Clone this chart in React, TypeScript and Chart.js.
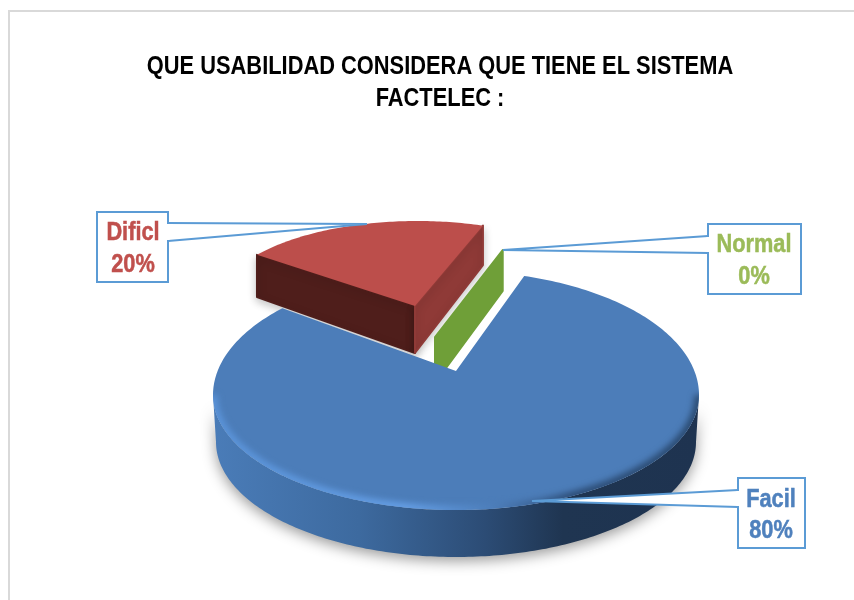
import React, { useEffect, useRef } from "react";
import { Chart, registerables } from "chart.js";

Chart.register(...registerables);

const categories = ["Facil", "Dificl", "Normal"];
const percentValues = [80, 20, 0];
const sliceColors = ["#4C7DB9", "#BC4E4B", "#6F9F38"];
const labelColors = ["#4F81BD", "#C0504D", "#9BBB59"];
const titleLines = ["QUE USABILIDAD CONSIDERA QUE TIENE EL SISTEMA", "FACTELEC :"];
const FONT = '"Liberation Sans", Arial, sans-serif';
const NARROW = 0.874;

// Projection of the tilted pie
const BLUE = { ax: 456, ay: 371, cx: 456, cy: 395, rx: 243, ryTop: 124, ryBot: 115, depth: 47, squash: 0.48 };
const RED = { ax: 415, ay: 306, r: 201, off: 2.5, ry: 85, ryBottom: 93, depth: 47 };
const GREEN = { ax: 435, ay: 337, r: 208, ry: 92, depth: 46 };

const CALLOUTS = [
  { box: [738, 478, 805, 548], wedge: [[738, 490], [532, 501], [738, 507]], cx: 771, y: [500, 531] },
  { box: [97, 212, 168, 282], wedge: [[168, 223], [367, 224], [168, 241]], cx: 133, y: [233, 265] },
  { box: [708, 224, 801, 294], wedge: [[708, 236], [503, 250], [708, 253]], cx: 754, y: [245, 277] },
];

const bluePoint = (t: number, dy = 0, shrink = 0) => {
  const c = Math.cos(t);
  return [
    BLUE.cx + (BLUE.rx - shrink) * Math.sin(t),
    BLUE.cy + dy - (c > 0 ? BLUE.ryTop : BLUE.ryBot) * c,
  ];
};

// Ellipse parameter whose ray from the apex has the given pie angle
const blueParam = (a: number) => {
  let best = 0;
  let err = Infinity;
  for (let i = 0; i < 3600; i++) {
    const t = (i / 3600) * Math.PI * 2;
    const [x, y] = bluePoint(t);
    const ang = Math.atan2(x - BLUE.ax, -(y - BLUE.ay) / BLUE.squash);
    let d = Math.abs(ang - a) % (Math.PI * 2);
    if (d > Math.PI) d = Math.PI * 2 - d;
    if (d < err) {
      err = d;
      best = t;
    }
  }
  return best;
};

const pie3d = {
  id: "pie3d",
  beforeDraw(chart: any) {
    const { ctx } = chart;
    const block = chart.titleBlock;
    if (block && !block.__narrow) {
      const orig = block.draw;
      block.draw = function () {
        ctx.save();
        ctx.translate(440, 0);
        ctx.scale(NARROW, 1);
        ctx.translate(-440, 0);
        orig.call(this);
        ctx.restore();
      };
      block.__narrow = true;
    }
    ctx.save();
    ctx.fillStyle = "#ffffff";
    ctx.fillRect(0, 0, 854, 600);
    ctx.strokeStyle = "#D9D9D9";
    ctx.lineWidth = 2;
    ctx.beginPath();
    ctx.moveTo(9, 600);
    ctx.lineTo(9, 11);
    ctx.lineTo(854, 11);
    ctx.stroke();
    ctx.restore();
  },
  beforeDatasetDraw(chart: any, args: any) {
    const { ctx } = chart;
    const arcs = args.meta.data;
    const ang = (v: number) => v + Math.PI / 2;
    const fills = arcs.map((e: any) => e.options.backgroundColor);

    const poly = (pts: number[][], color: string) => {
      ctx.beginPath();
      pts.forEach(([x, y], i) => (i ? ctx.lineTo(x, y) : ctx.moveTo(x, y)));
      ctx.closePath();
      ctx.fillStyle = color;
      ctx.strokeStyle = color;
      ctx.lineWidth = 2;
      ctx.lineJoin = "round";
      ctx.fill();
      ctx.stroke();
    };

    // Dificl
    const a0 = ang(arcs[1].startAngle);
    const a1 = ang(arcs[1].endAngle);
    const redAt = (a: number, bottom: boolean) => [
      RED.ax + RED.off + RED.r * Math.sin(a),
      RED.ay + (bottom ? RED.depth : 0) - (bottom ? RED.ryBottom : RED.ry) * Math.cos(a),
    ];
    ctx.save();
    ctx.shadowColor = "rgba(0,0,0,0.22)";
    ctx.shadowBlur = 8;
    ctx.shadowOffsetY = 3;
    poly([[RED.ax, RED.ay], redAt(a0, false), redAt(a0, true), [RED.ax, RED.ay + RED.depth]], "#4F1E1B");
    poly([[RED.ax, RED.ay], redAt(a1, false), redAt(a1, true), [RED.ax, RED.ay + RED.depth]], "#8F3A37");
    ctx.restore();
    ctx.fillStyle = fills[1];
    ctx.beginPath();
    ctx.moveTo(RED.ax, RED.ay);
    for (let i = 0; i <= 80; i++) {
      const [x, y] = redAt(a0 + ((a1 - a0) * i) / 80, false);
      ctx.lineTo(x, y);
    }
    ctx.closePath();
    ctx.fill();

    // Normal (a zero slice: only its cut wall shows)
    const g = ang(arcs[2].startAngle);
    const gx = GREEN.r * Math.sin(g);
    const gy = GREEN.ry * Math.cos(g);
    poly(
      [
        [GREEN.ax, GREEN.ay],
        [GREEN.ax + gx, GREEN.ay - gy],
        [GREEN.ax + gx, GREEN.ay - gy + 41],
        [GREEN.ax, GREEN.ay + GREEN.depth],
      ],
      fills[2],
    );

    // Facil: outer wall
    const wall = () => {
      ctx.beginPath();
      for (let i = 0; i <= 180; i++) {
        const [x, y] = bluePoint(Math.PI / 2 + (Math.PI * i) / 180);
        i ? ctx.lineTo(x, y) : ctx.moveTo(x, y);
      }
      for (let i = 180; i >= 0; i--) {
        const [x, y] = bluePoint(Math.PI / 2 + (Math.PI * i) / 180, BLUE.depth, 3);
        ctx.lineTo(x, y);
      }
      ctx.closePath();
    };
    const wg = ctx.createLinearGradient(213, 0, 699, 0);
    wg.addColorStop(0, "#4A7CB8");
    wg.addColorStop(0.3, "#3D6A9F");
    wg.addColorStop(0.56, "#2C4C75");
    wg.addColorStop(0.72, "#1F3551");
    wg.addColorStop(1, "#1E3350");
    ctx.save();
    ctx.shadowColor = "rgba(0,0,0,0.4)";
    ctx.shadowBlur = 14;
    ctx.shadowOffsetY = 4;
    ctx.fillStyle = wg;
    wall();
    ctx.fill();
    ctx.restore();

    // Facil: top face
    const t0 = blueParam(ang(arcs[0].startAngle));
    let t1 = blueParam(ang(arcs[0].endAngle));
    if (t1 < t0) t1 += Math.PI * 2;
    const top = () => {
      ctx.beginPath();
      ctx.moveTo(BLUE.ax, BLUE.ay);
      for (let i = 0; i <= 300; i++) {
        const [x, y] = bluePoint(t0 + ((t1 - t0) * i) / 300);
        ctx.lineTo(x, y);
      }
      ctx.closePath();
    };
    ctx.fillStyle = fills[0];
    top();
    ctx.fill();

    // Rim bevel
    ctx.save();
    top();
    ctx.clip();
    const rg = ctx.createLinearGradient(213, 0, 699, 0);
    rg.addColorStop(0, "#5A93D8");
    rg.addColorStop(0.4, "#659FE6");
    rg.addColorStop(0.58, "#4C7DB9");
    rg.addColorStop(0.74, "#2C4C75");
    rg.addColorStop(1, "#2A4A70");
    ctx.filter = "blur(3px)";
    ctx.strokeStyle = rg;
    ctx.lineWidth = 9;
    ctx.beginPath();
    for (let i = 0; i <= 180; i++) {
      const [x, y] = bluePoint(Math.PI / 2 + (Math.PI * i) / 180);
      i ? ctx.lineTo(x, y) : ctx.moveTo(x, y);
    }
    ctx.stroke();
    ctx.restore();
    return false;
  },
  afterDatasetsDraw(chart: any) {
    const { ctx } = chart;
    ctx.save();
    CALLOUTS.forEach((c, i) => {
      const [x0, y0, x1, y1] = c.box;
      ctx.fillStyle = "#ffffff";
      ctx.strokeStyle = "#5B9BD5";
      ctx.lineWidth = 2;
      ctx.lineJoin = "miter";
      ctx.beginPath();
      ctx.rect(x0, y0, x1 - x0, y1 - y0);
      ctx.fill();
      ctx.stroke();
      ctx.beginPath();
      ctx.moveTo(c.wedge[0][0], c.wedge[0][1]);
      ctx.lineTo(c.wedge[1][0], c.wedge[1][1]);
      ctx.lineTo(c.wedge[2][0], c.wedge[2][1]);
      ctx.fill();
      ctx.stroke();
      ctx.fillStyle = "#ffffff";
      const side = c.wedge[0][0];
      ctx.fillRect(side - 1.5, c.wedge[0][1] + 1, 3, c.wedge[2][1] - c.wedge[0][1] - 2);
      ctx.fillStyle = labelColors[i];
      ctx.strokeStyle = labelColors[i];
      ctx.lineWidth = 0.5;
      ctx.font = `bold 25px ${FONT}`;
      ctx.textAlign = "center";
      ctx.textBaseline = "middle";
      ctx.save();
      ctx.translate(c.cx, 0);
      ctx.scale(0.87, 1);
      ctx.fillText(categories[i], 0, c.y[0]);
      ctx.strokeText(categories[i], 0, c.y[0]);
      ctx.fillText(`${percentValues[i]}%`, 0, c.y[1]);
      ctx.strokeText(`${percentValues[i]}%`, 0, c.y[1]);
      ctx.restore();
    });
    ctx.restore();
  },
};

export default function App() {
  const ref = useRef<HTMLCanvasElement>(null);
  useEffect(() => {
    const chart = new Chart(ref.current!, {
      type: "pie",
      data: {
        labels: categories,
        datasets: [{ data: percentValues, backgroundColor: sliceColors, borderWidth: 0 }],
      },
      plugins: [pie3d],
      options: {
        animation: false,
        responsive: false,
        rotation: 19,
        layout: { padding: { left: 26, top: 51 } },
        plugins: {
          legend: { display: false },
          tooltip: { enabled: false },
          title: {
            display: true,
            text: titleLines,
            color: "#000000",
            font: { family: FONT, size: 25, weight: "bold", lineHeight: 1.28 },
            padding: 0,
          },
        },
      },
    } as any);
    return () => chart.destroy();
  }, []);
  return (
    <div style={{ position: "fixed", left: 0, top: 0, width: 854, height: 600, background: "#fff" }}>
      <canvas ref={ref} width={854} height={600} style={{ display: "block" }} />
    </div>
  );
}
